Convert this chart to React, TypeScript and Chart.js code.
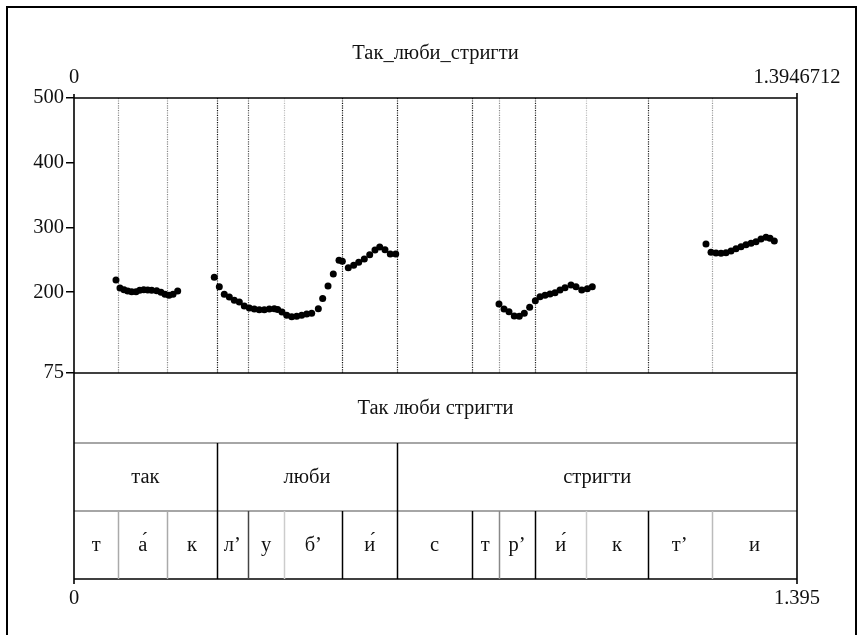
import { useEffect, useRef } from "react";
import { Chart, registerables } from "chart.js";
Chart.register(...registerables);

// ---------- data ----------
const chartTitle = "Так_люби_стригти";
const timeMin = 0;
const timeMax = 1.3946712;
const topLeftLabel = "0";
const topRightLabel = "1.3946712";
const bottomLeftLabel = "0";
const bottomRightLabel = "1.395";
const pitchMin = 75;
const pitchMax = 500;
const pitchTicks = [75, 200, 300, 400, 500];

const seg1Times = [0.081, 0.0887, 0.0965, 0.1036, 0.1113, 0.1196, 0.1267, 0.1345, 0.1422, 0.1499, 0.1595, 0.1678, 0.1755, 0.1833, 0.191, 0.2];
const seg1Hz = [218.7, 206.4, 203.8, 201.7, 200.7, 200.7, 202.8, 203.8, 203.3, 202.8, 202.2, 199.7, 196.6, 195, 196.6, 201.7];

const seg2Times = [0.2706, 0.2803, 0.2899, 0.2996, 0.3092, 0.3189, 0.3285, 0.3382, 0.3478, 0.3574, 0.3671, 0.3767, 0.3864, 0.3929, 0.4012, 0.4103, 0.42, 0.4296, 0.4392, 0.4489, 0.4585, 0.4713, 0.4797, 0.49, 0.5002, 0.5112, 0.5176, 0.5291, 0.5395, 0.5492, 0.56, 0.5704, 0.5806, 0.5897, 0.5999, 0.6101, 0.6206];
const seg2Hz = [222.9, 208.4, 196.6, 192.4, 187.3, 184.7, 178.5, 175.4, 173.9, 172.8, 172.8, 173.9, 174.4, 173.3, 169.3, 164.1, 162, 162.6, 164.1, 166.2, 167.2, 174.4, 190, 209.4, 228, 249.2, 247.6, 237.8, 241.4, 246.1, 251.2, 257.8, 265.1, 269.7, 265.6, 258.9, 258.9];

const seg3Times = [0.8198, 0.8295, 0.8391, 0.8493, 0.859, 0.8686, 0.879, 0.8899, 0.8989, 0.9086, 0.9182, 0.9279, 0.9375, 0.9472, 0.9587, 0.9684, 0.9794, 0.9902, 0.9998];
const seg3Hz = [181.6, 173.9, 169.8, 163.1, 162.6, 167.2, 176.5, 186.7, 192.9, 195, 197.1, 199.1, 203.3, 206.8, 211, 208.4, 203.3, 205.3, 208.4];

const seg4Times = [1.2191, 1.2288, 1.2384, 1.2481, 1.2577, 1.2674, 1.277, 1.2867, 1.2963, 1.306, 1.3156, 1.3252, 1.3349, 1.3426, 1.3509];
const seg4Hz = [274.4, 261.5, 260.4, 260, 260.9, 263.5, 267.1, 270.2, 273.3, 275.4, 277.9, 282.1, 284.7, 283.2, 279];

const phraseLabels = ["Так люби стригти"];
const phraseBounds = [0, 1.3946712];
const wordLabels = ["так", "люби", "стригти"];
const wordBounds = [0, 0.2753, 0.6237, 1.3946712];
const phoneLabels = ["т", "а́", "к", "л’", "у", "б’", "и́", "с", "т", "р’", "и́", "к", "т’", "и"];
const phoneBounds = [0, 0.0855, 0.18, 0.2753, 0.3357, 0.4057, 0.5176, 0.6237, 0.7672, 0.8193, 0.8899, 0.9877, 1.1067, 1.2302, 1.3946712];

// ---------- styles ----------
const FONT = "'Liberation Serif', 'Times New Roman', serif";
const FONT_SIZE = 20.5;
const dottedShades = ["#888", "#888", "#111", "#555", "#bbb", "#111", "#111", "#222", "#888", "#222", "#bbb", "#222", "#999"];
const phoneShades = ["#aaa", "#aaa", "#000", "#444", "#ccc", "#000", "#000", "#000", "#888", "#000", "#ccc", "#000", "#bbb"];
const tierHeights = [70, 68, 68];

function toPoints(ts: number[], vs: number[]) {
  return ts.map((t, i) => ({ x: t, y: vs[i] }));
}

export default function App() {
  const ref = useRef<HTMLCanvasElement>(null);

  useEffect(() => {
    const canvas = ref.current!;
    const points = [
      ...toPoints(seg1Times, seg1Hz),
      ...toPoints(seg2Times, seg2Hz),
      ...toPoints(seg3Times, seg3Hz),
      ...toPoints(seg4Times, seg4Hz),
    ];

    const praatPlugin = {
      id: "praat",
      beforeDatasetsDraw(chart: any) {
        const { ctx, chartArea, scales } = chart;
        const x = scales.x;
        ctx.save();
        ctx.setLineDash([1.2, 1.2]);
        ctx.lineWidth = 1.2;
        phoneBounds.slice(1, -1).forEach((t, i) => {
          const px = Math.round(x.getPixelForValue(t)) + 0.5;
          ctx.strokeStyle = dottedShades[i];
          ctx.beginPath();
          ctx.moveTo(px, chartArea.top);
          ctx.lineTo(px, chartArea.bottom);
          ctx.stroke();
        });
        ctx.restore();
      },
      afterDraw(chart: any) {
        const { ctx, chartArea, scales } = chart;
        const x = scales.x;
        const { left, right, top, bottom } = chartArea;
        const t1 = bottom;
        const t2 = t1 + tierHeights[0];
        const t3 = t2 + tierHeights[1];
        const t4 = t3 + tierHeights[2];
        ctx.save();

        // outer frame
        ctx.strokeStyle = "#000";
        ctx.lineWidth = 2;
        ctx.strokeRect(7, 7, 849, 660);

        const hline = (y: number, color: string, w: number) => {
          ctx.strokeStyle = color;
          ctx.lineWidth = w;
          ctx.beginPath();
          ctx.moveTo(left, y);
          ctx.lineTo(right, y);
          ctx.stroke();
        };
        const vline = (px: number, y0: number, y1: number, color: string, w: number) => {
          ctx.strokeStyle = color;
          ctx.lineWidth = w;
          ctx.beginPath();
          ctx.moveTo(px, y0);
          ctx.lineTo(px, y1);
          ctx.stroke();
        };

        hline(top, "#000", 1.6);
        hline(t1, "#000", 1.6);
        hline(t2, "#888", 1.5);
        hline(t3, "#888", 1.5);
        hline(t4, "#000", 1.6);
        vline(left, top - 4, t4 + 5, "#000", 1.6);
        vline(right, top - 5, t4 + 5, "#000", 1.6);

        // word tier boundaries
        wordBounds.slice(1, -1).forEach((t) => {
          vline(Math.round(x.getPixelForValue(t)) + 0.5, t2, t3, "#000", 1.5);
        });
        // phone tier boundaries
        phoneBounds.slice(1, -1).forEach((t, i) => {
          vline(Math.round(x.getPixelForValue(t)) + 0.5, t3, t4, phoneShades[i], 1.5);
        });

        ctx.fillStyle = "#111";
        ctx.font = `${FONT_SIZE}px ${FONT}`;
        ctx.textAlign = "center";
        ctx.textBaseline = "middle";

        const drawTier = (labels: string[], bounds: number[], y0: number, y1: number) => {
          labels.forEach((lab, i) => {
            const cx = (x.getPixelForValue(bounds[i]) + x.getPixelForValue(bounds[i + 1])) / 2;
            ctx.fillText(lab, cx, (y0 + y1) / 2 + 1);
          });
        };
        drawTier(phraseLabels, phraseBounds, t1, t2);
        drawTier(wordLabels, wordBounds, t2, t3);
        drawTier(phoneLabels, phoneBounds, t3, t4);

        // title and time labels
        ctx.fillText(chartTitle, (left + right) / 2, 54);
        ctx.fillText(topLeftLabel, left, 78);
        ctx.fillText(topRightLabel, right, 78);
        ctx.fillText(bottomLeftLabel, left, 599);
        ctx.fillText(bottomRightLabel, right, 599);
        ctx.restore();
      },
    };

    const chart = new Chart(canvas, {
      type: "scatter",
      data: {
        datasets: [
          {
            data: points,
            pointRadius: 3.5,
            pointBackgroundColor: "#000",
            pointBorderWidth: 0,
            showLine: false,
          },
        ],
      },
      options: {
        responsive: false,
        animation: false,
        layout: { padding: { left: 0, top: 98, right: 62, bottom: 262 } },
        plugins: {
          legend: { display: false },
          tooltip: { enabled: false },
          title: { display: false },
        },
        scales: {
          x: {
            type: "linear",
            min: timeMin,
            max: timeMax,
            display: false,
          },
          y: {
            type: "linear",
            min: pitchMin,
            max: pitchMax,
            afterBuildTicks: (scale: any) => {
              scale.ticks = pitchTicks.map((v) => ({ value: v }));
            },
            afterFit: (scale: any) => {
              scale.width = 74;
            },
            border: { display: false },
            grid: {
              drawOnChartArea: false,
              drawTicks: true,
              tickLength: 8,
              color: "#000",
              lineWidth: 1.5,
            },
            ticks: {
              padding: 2,
              color: "#111",
              font: { family: FONT, size: FONT_SIZE },
              autoSkip: false,
              callback: (v: any) => String(v),
            },
          },
        },
      },
      plugins: [praatPlugin],
    });
    return () => chart.destroy();
  }, []);

  return (
    <div style={{ position: "fixed", left: 0, top: 0, width: 859, height: 635, background: "#fff" }}>
      <canvas ref={ref} width={859} height={635} style={{ display: "block", width: 859, height: 635 }} />
    </div>
  );
}
